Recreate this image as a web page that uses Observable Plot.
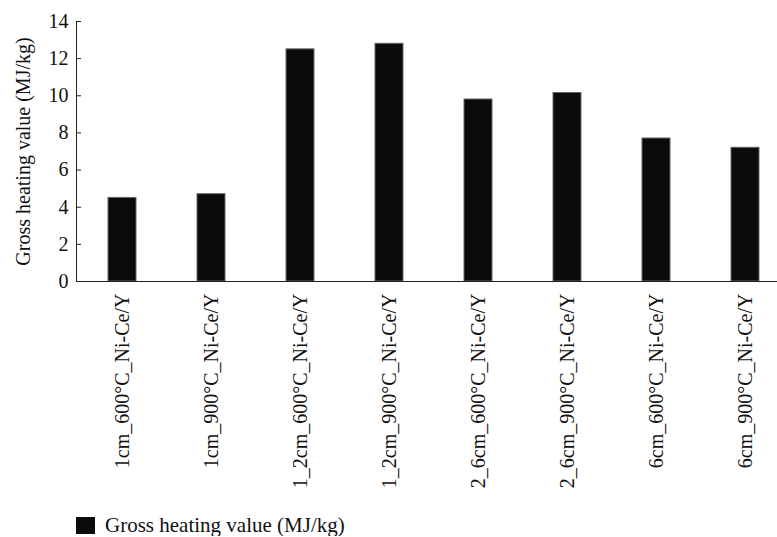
<!DOCTYPE html>
<html>
<head>
<meta charset="utf-8">
<script src="https://cdn.jsdelivr.net/npm/d3@7"></script>
<script src="https://cdn.jsdelivr.net/npm/@observablehq/plot@0.6"></script>
<style>
  body { margin: 0; background: #fff; font-family: "Liberation Serif", serif; }
  #legend { display: flex; align-items: center; padding-left: 76px; margin-top: 9px; font-size: 21px; line-height: 22px; color: #111; }
  #legend .sw { width: 19px; height: 17px; background: #0b0b09; margin-right: 10px; }
</style>
</head>
<body>
<div id="chart"></div>
<div id="legend"><div class="sw"></div><span>Gross heating value (MJ/kg)</span></div>
<script>
const categories = ["1cm_600°C_Ni-Ce/Y", "1cm_900°C_Ni-Ce/Y", "1_2cm_600°C_Ni-Ce/Y", "1_2cm_900°C_Ni-Ce/Y",
                    "2_6cm_600°C_Ni-Ce/Y", "2_6cm_900°C_Ni-Ce/Y", "6cm_600°C_Ni-Ce/Y", "6cm_900°C_Ni-Ce/Y"];
const values = [4.5, 4.7, 12.5, 12.8, 9.8, 10.15, 7.7, 7.2];
const yTicks = [0, 2, 4, 6, 8, 10, 12, 14];
const seriesName = "Gross heating value (MJ/kg)";

const data = categories.map((c, i) => ({category: c, value: values[i]}));

const chart = Plot.plot({
  width: 777,
  height: 505,
  marginLeft: 76,
  marginRight: 0,
  marginTop: 21,
  marginBottom: 224,
  style: {fontFamily: "Liberation Serif, serif", fontSize: "20px", color: "#111", background: "#fff"},
  x: {domain: categories, paddingInner: 0.68, paddingOuter: 0.265, align: 0.65},
  y: {domain: [0, 14]},
  marks: [
    Plot.barY(data, {x: "category", y: "value", fill: "#0b0b09", stroke: "#666", strokeWidth: 1}),
    Plot.axisX({tickSize: 0, tickPadding: 12, tickRotate: -90, label: null}),
    Plot.axisY({ticks: yTicks, tickSize: 5, dx: 5, tickFormat: () => "", label: null, stroke: "#222"}),
    Plot.axisY({ticks: yTicks, tickSize: 0, tickPadding: 8, label: seriesName, labelAnchor: "center", labelArrow: "none", labelOffset: 61}),
    Plot.frame({anchor: "left", stroke: "#222"}),
    Plot.ruleY([0], {stroke: "#222"})
  ]
});
document.getElementById("chart").appendChild(chart);
</script>
</body>
</html>
